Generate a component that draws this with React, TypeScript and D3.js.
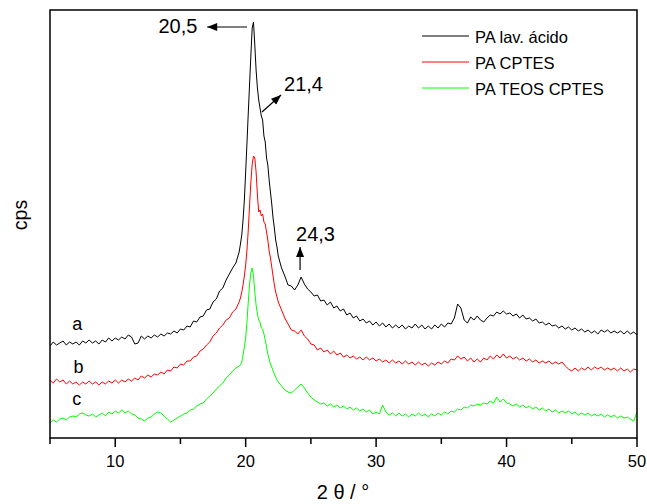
import React from 'react';
import * as d3 from 'd3';

const W = 647;
const H = 504;
const PLOT = { left: 50, right: 637, top: 10, bottom: 438 };
const FONT = "Arial, 'Liberation Sans', Helvetica, sans-serif";

// sampling grid of 2θ (deg): coarse, fine around the main peak, coarse
const GRID_COARSE_A = d3.range(59).map((i) => +(5 + i * 0.25).toFixed(2));
const GRID_FINE = d3.range(29).map((i) => +(19.6 + i * 0.1).toFixed(2));
const GRID_COARSE_B = d3.range(111).map((i) => +(22.5 + i * 0.25).toFixed(2));
const ANGLES = [...GRID_COARSE_A, ...GRID_FINE, ...GRID_COARSE_B];

// intensities (cps, offset traces)
const PA_LAV_ACIDO = [
  94, 98, 95, 97, 99, 95, 98, 96, 98, 95,
  99, 97, 100, 97, 99, 96, 100, 98, 102, 99,
  102, 100, 103, 101, 105, 103, 96, 97, 104, 101,
  104, 102, 105, 103, 106, 104, 107, 106, 109, 107,
  111, 110, 114, 113, 119, 118, 123, 124, 130, 131,
  138, 141, 149, 152, 160, 166, 172, 177, 188,
  196, 205, 220, 240, 268, 297, 327, 356, 385, 412,
  418, 395, 370, 352, 340, 332, 324, 320, 304, 298,
  282, 275, 260, 248, 236, 222, 212, 200, 193,
  184, 172, 164, 155, 154, 150, 155, 163, 156, 151,
  148, 144, 145, 139, 140, 135, 138, 132, 134, 129, 131, 125, 127, 122, 124, 119, 121, 117, 119, 115,
  118, 114, 117, 113, 116, 112, 115, 112, 115, 111, 114, 112, 116, 112, 115, 111, 114, 111, 115, 112,
  116, 113, 117, 116, 122, 136, 132, 120, 117, 123, 120, 124, 120, 118, 122, 125, 124, 128, 126, 129,
  126, 127, 124, 126, 122, 125, 121, 122, 119, 121, 117, 118, 115, 117, 114, 115, 112, 114, 111, 113,
  110, 112, 109, 111, 108, 110, 107, 109, 106, 110, 108, 110, 107, 109, 107, 109, 106, 109, 106, 108,
  105,
];

const PA_CPTES = [
  60, 57, 61, 58, 60, 56, 59, 56, 58, 55,
  58, 56, 59, 56, 58, 55, 58, 56, 59, 57,
  60, 57, 60, 58, 61, 59, 62, 60, 64, 62,
  65, 63, 66, 65, 68, 66, 70, 69, 73, 72,
  76, 75, 79, 79, 83, 84, 89, 91, 95, 98,
  104, 107, 112, 115, 120, 122, 128, 131, 138,
  142, 148, 155, 164, 175, 190, 210, 235, 258, 276,
  284, 282, 268, 245, 228, 230, 224, 226, 218, 216,
  208, 200, 189, 182, 173, 164, 155, 148, 143,
  138, 130, 122, 116, 110, 109, 106, 110, 104, 101,
  96, 95, 90, 92, 88, 90, 86, 89, 85, 87, 83, 85, 82, 84, 81, 83, 80, 83, 80, 82,
  79, 81, 78, 80, 77, 80, 77, 79, 76, 79, 76, 78, 75, 78, 75, 77, 74, 77, 75, 78,
  76, 79, 77, 81, 80, 84, 81, 83, 79, 82, 78, 81, 78, 82, 80, 84, 81, 85, 82, 86,
  82, 84, 81, 83, 80, 82, 79, 81, 78, 80, 77, 79, 77, 79, 76, 78, 76, 78, 74, 71,
  69, 72, 69, 72, 70, 73, 70, 73, 71, 73, 70, 72, 70, 72, 69, 72, 69, 71, 68, 71,
  70,
];

const PA_TEOS_CPTES = [
  17, 20, 18, 21, 22, 20, 23, 24, 23, 26,
  27, 25, 24, 26, 23, 25, 27, 24, 28, 26,
  29, 27, 30, 27, 29, 26, 25, 22, 21, 19,
  22, 23, 26, 28, 27, 24, 21, 18, 20, 22,
  24, 26, 27, 30, 31, 34, 36, 37, 41, 44,
  47, 51, 54, 57, 62, 65, 69, 72, 74,
  75, 78, 85, 93, 102, 118, 138, 156, 167, 172,
  164, 148, 135, 126, 120, 118, 112, 111, 106, 100,
  93, 86, 81, 76, 73, 69, 66, 63, 60,
  58, 54, 50, 48, 47, 50, 53, 56, 52, 47,
  43, 40, 38, 36, 37, 34, 36, 33, 35, 32, 34, 31, 33, 30, 32, 29, 31, 28, 30, 26,
  28, 26, 35, 28, 25, 27, 24, 27, 24, 26, 23, 26, 24, 27, 24, 26, 23, 26, 24, 27,
  25, 28, 26, 29, 28, 31, 30, 33, 32, 35, 34, 36, 35, 37, 36, 39, 37, 43, 38, 41,
  37, 36, 34, 36, 33, 35, 32, 34, 31, 33, 30, 32, 29, 31, 28, 30, 27, 29, 27, 29,
  26, 28, 25, 27, 25, 27, 24, 26, 24, 26, 23, 25, 23, 25, 22, 24, 22, 23, 21, 19,
  28,
];

const SERIES_NAMES = ['PA lav. ácido', 'PA CPTES', 'PA TEOS CPTES'];
const SERIES_COLORS = ['#000000', '#ff0000', '#00ff00'];
const SERIES_VALUES = [PA_LAV_ACIDO, PA_CPTES, PA_TEOS_CPTES];
const TRACE_LETTERS = ['a', 'b', 'c'];
const TRACE_LETTER_POS = [[6.7, 110], [6.8, 67], [6.7, 35]];

const X_MAJOR_TICKS = [10, 20, 30, 40, 50];
const X_MINOR_TICKS = [5, 15, 25, 35, 45];

// peak annotations: label, text anchor point, arrow from -> to (data coords)
const ANNOTATIONS = [
  { label: '20,5', tx: 16.3, ty: 407, anchor: 'end', from: [20.1, 413], to: [17.05, 413] },
  { label: '21,4', tx: 22.94, ty: 349, anchor: 'start', from: [21.25, 328], to: [22.71, 345] },
  { label: '24,3', tx: 23.86, ty: 199, anchor: 'start', from: [24.17, 170], to: [24.17, 193] },
];

export default function App() {
  const x = d3.scaleLinear().domain([5, 50]).range([PLOT.left, PLOT.right]);
  const y = d3.scaleLinear().domain([2, 430]).range([PLOT.bottom, PLOT.top]);

  const line = d3
    .line<number>()
    .x((_, i) => x(ANGLES[i]))
    .y((d) => y(d));

  const legendRows = [36, 62, 88];
  const legendBase = [43, 69, 95];

  return (
    <svg
      width={W}
      height={H}
      viewBox={`0 0 ${W} ${H}`}
      style={{ position: 'absolute', left: 0, top: 0, background: '#fff' }}
      fontFamily={FONT}
    >
      <defs>
        <clipPath id="plotclip">
          <rect x={PLOT.left} y={PLOT.top} width={PLOT.right - PLOT.left} height={PLOT.bottom - PLOT.top} />
        </clipPath>
        <marker id="arrowhead" viewBox="0 0 10 8" refX="10" refY="4" markerWidth="11" markerHeight="8" markerUnits="userSpaceOnUse" orient="auto">
          <path d="M0,0 L10,4 L0,8 Z" fill="#000" />
        </marker>
      </defs>

      <rect x={0} y={0} width={W} height={H} fill="#fff" />

      <g clipPath="url(#plotclip)">
        {SERIES_VALUES.map((vals, si) => (
          <path key={si} d={line(vals) || ''} fill="none" stroke={SERIES_COLORS[si]} strokeWidth={1} strokeLinejoin="round" />
        ))}
      </g>

      {/* frame */}
      <rect
        x={PLOT.left}
        y={PLOT.top}
        width={PLOT.right - PLOT.left}
        height={PLOT.bottom - PLOT.top}
        fill="none"
        stroke="#000"
        strokeWidth={1.5}
      />

      {/* x ticks */}
      {X_MAJOR_TICKS.map((t) => (
        <g key={'M' + t}>
          <line x1={x(t)} x2={x(t)} y1={PLOT.bottom} y2={PLOT.bottom + 9} stroke="#000" strokeWidth={1.5} />
          <text x={x(t)} y={467} textAnchor="middle" fontSize={16.5} fill="#000">
            {t}
          </text>
        </g>
      ))}
      {X_MINOR_TICKS.map((t) => (
        <line key={'m' + t} x1={x(t)} x2={x(t)} y1={PLOT.bottom} y2={PLOT.bottom + 6} stroke="#000" strokeWidth={1.5} />
      ))}

      {/* axis titles */}
      <text x={343} y={499} textAnchor="middle" fontSize={20} fill="#000">
        2 θ /  °
      </text>
      <text transform="translate(27,215) rotate(-90)" textAnchor="middle" fontSize={19.5} fill="#000">
        cps
      </text>

      {/* trace letters */}
      {TRACE_LETTERS.map((l, i) => (
        <text key={l} x={x(TRACE_LETTER_POS[i][0])} y={y(TRACE_LETTER_POS[i][1])} fontSize={18} fill="#000">
          {l}
        </text>
      ))}

      {/* annotations */}
      {ANNOTATIONS.map((a) => (
        <g key={a.label}>
          <line
            x1={x(a.from[0])}
            y1={y(a.from[1])}
            x2={x(a.to[0])}
            y2={y(a.to[1])}
            stroke="#000"
            strokeWidth={1.2}
            markerEnd="url(#arrowhead)"
          />
          <text x={x(a.tx)} y={y(a.ty)} textAnchor={a.anchor as any} fontSize={20} fill="#000">
            {a.label}
          </text>
        </g>
      ))}

      {/* legend */}
      {SERIES_NAMES.map((n, i) => (
        <g key={n}>
          <line x1={422} x2={469} y1={legendRows[i]} y2={legendRows[i]} stroke={SERIES_COLORS[i]} strokeWidth={1} />
          <text x={475} y={legendBase[i]} fontSize={16.5} fill="#000">
            {n}
          </text>
        </g>
      ))}
    </svg>
  );
}
